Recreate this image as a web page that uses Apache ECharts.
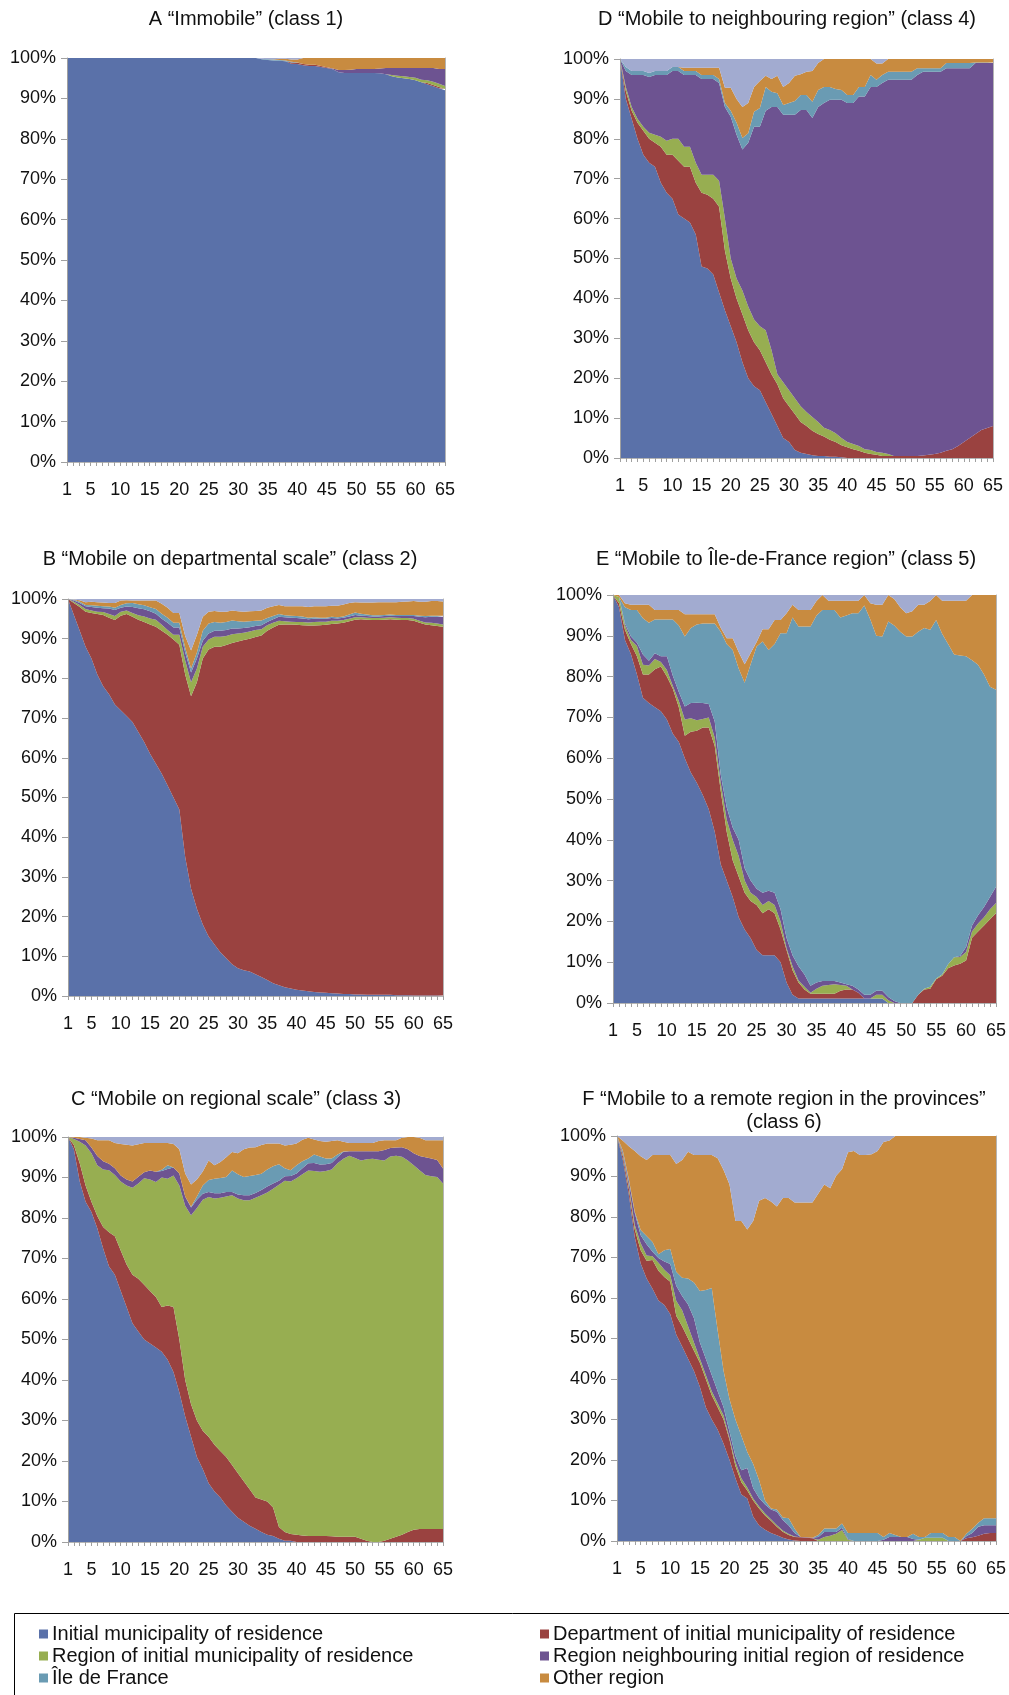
<!DOCTYPE html>
<html>
<head>
<meta charset="utf-8">
<script src="https://cdn.jsdelivr.net/npm/echarts@6/dist/echarts.min.js"></script>
<style>
  html, body { margin: 0; padding: 0; background: #ffffff; }
  #chart { width: 1009px; height: 1695px; }
</style>
</head>
<body>
<div id="chart"></div>
<script>
// Ages 1..65 (x categories)
const ages = [1,2,3,4,5,6,7,8,9,10,11,12,13,14,15,16,17,18,19,20,21,22,23,24,25,26,27,28,29,30,
  31,32,33,34,35,36,37,38,39,40,41,42,43,44,45,46,47,48,49,50,51,52,53,54,55,56,57,58,59,60,
  61,62,63,64,65];
const xTickLabels = [1,5,10,15,20,25,30,35,40,45,50,55,60,65];
const yTickValues = [0,10,20,30,40,50,60,70,80,90,100];

const seriesNames = [
  'Initial municipality of residence',
  'Department of initial municipality of residence',
  'Region of initial municipality of residence',
  'Region neighbouring initial region of residence',
  'Île de France',
  'Other region',
  'Unspecified'
];
const seriesColors = ['#5a71a9', '#9a4240', '#97ae51', '#6d5391', '#6a9bb3', '#c88b40', '#a2abd0'];

// ---- A "Immobile" (class 1), shares in %
const aInitial = [100,100,100,100,100,100,100,100,100,100,100,100,100,100,100,100,100,100,100,100,
  100,100,100,100,100,100,100,100,100,100,100,100,100,99.7,99.5,99.4,99.3,99.2,98.6,98.5,
  98.2,98,98,97.8,97.5,97.2,96.5,96.3,96.3,96.3,96.3,96.3,96.3,96.2,96,95.5,95.2,95,94.8,94.5,
  94,93.5,93,92.5,92];
const aDept = [0,0,0,0,0,0,0,0,0,0,0,0,0,0,0,0,0,0,0,0,0,0,0,0,0,0,0,0,0,0,0,0,0,0,0,0,0,0,
  0.3,0.3,0.3,0.3,0.3,0.2,0.2,0,0,0,0,0,0,0,0,0,0,0,0,0,0,0,0,0.3,0.3,0.3,0.3];
const aRegion = [0,0,0,0,0,0,0,0,0,0,0,0,0,0,0,0,0,0,0,0,0,0,0,0,0,0,0,0,0,0,0,0,0,0,0,0,0,0,0,0,
  0,0,0,0,0,0,0,0,0,0,0,0,0,0,0,0.3,0.4,0.5,0.5,0.6,0.6,0.7,0.8,0.8,0.8];
const aNeighbour = [0,0,0,0,0,0,0,0,0,0,0,0,0,0,0,0,0,0,0,0,0,0,0,0,0,0,0,0,0,0,0,0,0,0,0,0,0,0,0,0,
  0,0,0,0,0,0.2,0.5,0.7,0.8,1,1,1,1,1.2,1.5,1.7,1.9,2,2.2,2.4,2.9,3,3.4,3.7,4.2];
const aIdf = [0,0,0,0,0,0,0,0,0,0,0,0,0,0,0,0,0,0,0,0,0,0,0,0,0,0,0,0,0,0,0,0,0,0.1,0.2,0.2,0.2,0.2,0.2,0.1,
  0,0,0,0,0,0,0,0,0,0,0,0,0,0,0,0,0,0,0,0,0,0,0,0,0];
const aOther = [0,0,0,0,0,0,0,0,0,0,0,0,0,0,0,0,0,0,0,0,0,0,0,0,0,0,0,0,0,0,0,0,0,0,0,0.1,0.3,0.4,0.5,0.7,
  1.5,1.7,1.7,2,2.3,2.6,3,3,2.9,2.7,2.7,2.7,2.7,2.6,2.5,2.5,2.5,2.5,2.5,2.5,2.5,2.5,2.5,2.7,2.7];
const aUnknown = [0,0,0,0,0,0,0,0,0,0,0,0,0,0,0,0,0,0,0,0,0,0,0,0,0,0,0,0,0,0,0,0,0,0.2,0.3,0.3,0.2,0.2,0.4,0.4,
  0,0,0,0,0,0,0,0,0,0,0,0,0,0,0,0,0,0,0,0,0,0,0,0,0];

// ---- B "Mobile on departmental scale" (class 2)
const bInitial = [100,96,92,88,85,81,78,76,73.4,72,70.5,69,66.5,64,61,58.5,56,53,50,47,
  35,27,22,18,15,13,11,9.5,8,7,6.5,6.2,5.5,4.8,4,3.2,2.7,2.2,1.9,1.6,
  1.4,1.2,1,0.9,0.8,0.7,0.6,0.5,0.5,0.4,0.4,0.3,0.3,0.3,0.3,0.3,0.2,0.2,0.2,0.1,
  0.1,0.1,0.1,0.1,0.1];
const bDept = [0,3,6,8.8,11.5,15.2,18,19.3,21.3,23.8,25.7,26.5,28.3,30.2,32.6,34.5,36,38,39.8,41.5,
  46,48.5,57,67,72.3,75,77,78.9,80.9,82.3,83.2,83.8,84.9,86,88,89.6,90.8,91.4,91.7,91.9,
  92,92.1,92.3,92.5,92.7,93,93.2,93.5,93.9,94.4,94.5,94.5,94.4,94.4,94.5,94.6,94.6,94.5,94.5,94.4,
  93.9,93.5,93.3,93.1,92.9];
const bRegion = [0,0.3,0.5,0.7,0.6,0.6,0.7,0.9,1,1,0.9,1,1.1,1.4,1.5,1.8,1.5,1.2,1.2,2.5,
  3.5,3.5,3.5,3,2.5,2.5,2.5,2.3,2.2,2,1.8,1.8,1.8,1.6,1.4,1.2,1,0.8,0.7,0.7,
  0.8,0.8,0.9,0.9,0.8,0.8,0.7,0.7,0.6,0.6,0.5,0.5,0.5,0.5,0.5,0.5,0.5,0.5,0.5,0.5,
  0.5,0.5,0.6,0.6,0.6];
const bNeighbour = [0,0.3,0.5,0.7,0.9,1,1,1.4,1.5,1,1,1.5,1.8,1.8,1.8,1.5,1.5,1.8,1.8,1.8,
  2,2.5,2.5,1.5,1.5,1.5,1.5,1.5,1.5,1.3,1.2,1.1,1,1,0.8,0.9,1,1,1,1,
  0.9,0.8,0.8,0.7,0.7,0.7,0.6,0.6,0.6,0.6,0.4,0.4,0.4,0.4,0.4,0.4,0.4,0.5,0.5,0.7,
  1,1.3,1.5,1.7,1.9];
const bIdf = [0,0.2,0.3,0.3,0.4,0.5,0.5,0.5,0.6,0.7,0.8,1,1,1,1,1.2,1.3,1.3,1.2,1.2,
  1.2,1,1.5,2.5,2.5,2.2,2,2,2,1.8,1.6,1.5,1.3,1.2,1,0.8,0.7,0.5,0.5,0.5,
  0.5,0.4,0.4,0.3,0.3,0.3,0.3,0.3,0.5,0.6,0.5,0.4,0.3,0.3,0.3,0.3,0.3,0.3,0.3,0.3,
  0.3,0.3,0.3,0.3,0.3];
const bOther = [0,0.1,0.4,0.7,0.9,0.9,0.9,0.9,1.2,1.1,0.8,0.6,0.9,1.2,1.7,2.1,2.5,2.5,2.5,2.5,
  3,4.5,4.5,3.5,3,2.8,2.8,2.6,2.5,2.5,2.5,2.5,2.5,2.5,2.6,2.5,2.3,2.3,2.4,2.5,
  2.6,2.7,2.8,2.9,2.9,2.8,2.9,3,2.9,2.6,2.8,3,3.2,3.3,3.2,3.1,3.2,3.3,3.4,3.5,
  3.5,3.6,3.7,3.7,3.6];
const bUnknown = [0,0.1,0.3,0.8,0.7,0.8,0.9,1,1,0.4,0.3,0.4,0.4,0.4,0.4,0.4,1.2,2.2,3.5,3.5,
  9.3,13,9,4.5,3.2,3,3.2,3.2,2.9,3.1,3.2,3.1,3,2.9,2.2,1.8,1.5,1.8,1.8,1.8,
  1.8,2,1.8,1.8,1.8,1.7,1.7,1.4,1,0.8,0.9,0.9,0.9,0.8,0.8,0.8,0.8,0.7,0.6,0.5,
  0.7,0.7,0.5,0.5,0.6];

// ---- C "Mobile on regional scale" (class 3)
const cInitial = [100,97,89,84,81.5,77.5,72.5,68,66,62,58,54,52,50,49,48,47,45,42,37,
  31,26,21,18,14.5,12.5,11,9,7.5,6,5,4,3.3,2.5,1.8,1.5,0.8,0.3,0.3,0,
  0,0,0,0,0,0,0,0,0,0,0,0,0,0,0,0,0,0,0,0,0,0,0,0,0];
const cDept = [0,1,4.5,4,2.5,3,5.3,8.5,9.5,10,10.5,12,13,13.5,13,12.5,11,13.4,16,13,
  9,8,9,9.5,11.5,11.5,11.5,12,11.5,11,10,9,7.7,8,8.2,7,2.9,2.2,1.7,1.8,
  1.6,1.5,1.5,1.5,1.5,1.4,1.3,1.3,1.3,1.3,0.8,0.3,0,0,0.3,0.8,1.3,1.8,2.5,3,
  3.2,3.2,3.2,3.2,3.2];
const cRegion = [0,1.5,5.3,9.9,12,12.5,14.2,15.3,15.1,17,19.5,21.5,23.5,26.3,27.5,28.4,32,31.3,32.5,38,
  43,46.7,52.5,57,59.2,60.8,62.5,64.3,66.6,67.8,69.4,71.4,74,75.1,76.3,78.7,84.5,86.7,87,88,
  89.2,90.2,90.1,89.9,90.1,90.6,92.2,93.3,94.1,93.5,93.4,94.2,94.6,94.4,93.9,94.4,94.1,93.3,91.7,90,
  88.6,87.4,87.1,86.9,85.3];
const cNeighbour = [0,0.3,0.7,1.3,1.4,2.3,2,1.6,1.7,1.5,1.5,1.5,1.7,1.5,2.2,2.5,1.6,2.4,2,3,
  2.3,1.9,2,1.5,1.2,1.3,1.1,1.1,0.8,1,1.2,1.2,1.2,1.3,1.5,1.3,1,1.1,1.4,1.2,
  1.5,1.8,2,1.8,1.7,1.6,1.5,1.7,1.1,1.7,2.3,2,1.9,2.1,2.6,2.1,2,2.4,2.8,3,
  3.5,4.4,4.4,4.2,3.7];
const cIdf = [0,0,0,0,0,0,0,0,0,0,0,0,0,0,0,0,0.3,0.9,0,0,
  0,0.2,0.8,2,3,3.6,3.8,3.7,5.3,5,4.5,4.8,4.4,4,4.2,4.3,4.1,2,1.4,2,
  1.7,1.2,2.1,2,1.4,1.1,0.7,0.1,0,0,0,0,0,0,0,0,0,0,0,0,0,0,0,0,0];
const cOther = [0,0.2,0.5,0.6,2.2,3.9,5.2,5.8,6.2,7.8,8.6,8.9,8,7.2,6.8,7.1,6.6,5.5,5.8,6,
  5.7,5.5,4.2,3.5,4.8,3.3,3.9,4.9,4.6,5.2,6.9,7,6.9,7.1,6.4,5.6,5.1,5.6,6.3,5.4,
  5.3,5.1,3.7,3.8,4.1,4.3,3.5,2.4,2,2,2,2,2,2.5,2.4,1.9,1.8,2.3,3,4,
  4.5,4.2,4.5,4.9,7];
const cUnknown = [0,0,0,0.2,0.4,0.8,0.8,0.8,1.5,1.7,1.9,2.1,1.8,1.5,1.5,1.5,1.5,1.5,1.7,3,
  9,11.7,10.5,8.5,5.8,7,6.2,5,3.7,4,3,2.6,2.5,2,1.6,1.6,1.6,2.1,1.9,1.6,
  0.7,0.2,0.6,1,1.2,1,0.8,1.2,1.5,1.5,1.5,1.5,1.5,1,0.8,0.8,0.8,0.2,0,0,
  0.2,0.8,0.8,0.8,0.8];

// ---- D "Mobile to neighbouring region" (class 4)
const dInitial = [100,90,85,80,76,74,73,69,66.5,65,61,60,59,56,48,47.5,46,41.5,37,33,
  29,24,20,18,17,14,11,8,5,4,2,1.3,1,0.7,0.5,0.5,0.3,0.3,0.2,0,
  0,0,0,0,0,0,0,0,0,0,0,0,0,0,0,0,0,0,0,0,0,0,0,0,0];
const dDept = [0,2,2,4,6,6,6,9,9.5,11,13.5,13,14,13,18.5,18.5,19,21.5,15,12,
  11,12,12,11,10,10,10,10.5,10,9,9,7.7,7,6.1,5.5,4.9,4.3,3.7,3,2.7,
  2.2,1.8,1.3,1,0.8,0.5,0.5,0.5,0.5,0.5,0.5,0.5,0.6,0.8,1,1.3,1.8,2.2,3,4,
  5,6,7,7.5,8];
const dRegion = [0,1,1,1,1,1.5,2,2.5,3.5,4,5.5,5,5,5,4.5,5,6,6.5,8,5,
  5,6,6,5.7,6,8,6,2.5,4,4,4,4,3.5,3.5,3,2.2,2.4,2.2,1.8,1.3,
  1.3,1.2,0.9,1,0.7,0.8,0.5,0,0,0,0,0,0,0,0,0,0,0,0,0,0,0,0,0,0];
const dNeighbour = [0,4,8,11,13,14,15,15.5,16.5,17,17,18,18,22,24,24,24,24.5,28,35.5,
  36,35.3,41,48.3,50,55,61,67,67,69,71,74.2,75.7,74.9,79,81.4,82.8,83.6,84.8,85,
  85.5,87.6,88.4,91,91.5,92.7,93.8,94.3,94.3,94.3,94.3,95.5,96.2,96,95.8,95.5,95.9,95.5,94.7,93.7,
  92.7,93,92,91.5,91];
const dIdf = [0,1,1,1,1,1,1,1,1,1,1,1,1,1,1,1,1,1,1,1.5,
  3,2.9,2.4,3.8,4.7,6,3.8,3.4,2.5,3,3.5,3.8,3.8,4.1,4.2,4,3.2,2.7,2.4,2,
  2,2.4,2.4,3,1.8,2,2,2,2,2,2,1.7,0.9,0.9,0.9,0.9,1.3,1.3,1.3,1.3,
  1.3,0.1,0.1,0.1,0.1];
const dOther = [0,0,0,0,0,0,0,0,0,0,0,0.8,0.8,0.8,1.8,1.8,1.8,2.8,3.8,5.8,
  6,7.8,7.6,6.2,6.8,2.8,3.2,4.4,4.5,5,6.3,5.2,5.8,7.7,6.8,7,7,7.5,7.8,9,
  9,7,7,4,4.1,2.9,3.2,3.2,3.2,3.2,3.2,2.3,2.3,2.3,2.3,2.3,1,1,1,1,
  1,0.9,0.9,0.9,0.9];
const dUnknown = [0,2,3,3,3,3.5,3,3,3,2,2,2.2,2.2,2.2,2.2,2.2,2.2,2.2,7.2,7.2,
  10,12,11,7,5.5,4.2,5,4.2,7,6,4.2,3.8,3.2,3,1,0,0,0,0,0,
  0,0,0,0,1.1,1.1,0,0,0,0,0,0,0,0,0,0,0,0,0,0,0,0,0,0,0];

// ---- E "Mobile to Île-de-France region" (class 5)
const eInitial = [100,97,89,85.5,80.5,74.8,73.5,72.5,71.5,69.5,66,64,60,56.5,54,51,47.5,42,34,30,
  26,21,18,15.9,13,11.7,11.7,11.7,10,5,2,1.1,1.1,1.1,1.1,1.1,1.1,1.1,1.1,1.1,
  1.1,1.1,1.1,1.1,1.1,1.1,0,0,0,0,0,0,0,0,0,0,0,0,0,0,0,0,0,0,0];
const eDept = [0,1,2.5,2.5,4.5,5.7,7,9.3,11,10.5,11,8.5,5.5,10,12.7,16.5,20,21,18,12,
  9,10,9,9.1,11,10.3,11.3,10.3,8,8,6,3.9,2.2,1.15,1.15,1.15,1.15,1.15,1.9,2.2,
  2.2,1.4,0,0,0,0,0,0,0,0,0,2,3.3,3.5,5.8,6.7,8.5,9.2,9.6,10.4,
  16,17.5,19,20.5,22];
const eRegion = [0,1.5,1,1,2.5,2.4,2.2,2.5,1.1,1.6,0.7,1.5,4,3.3,2.6,2.1,2.5,2,2,3,
  5,5,3,2,2,2,2,2,2,0.5,1,0.5,0.7,0.25,1.25,1.95,2.15,2.35,1.4,0.9,
  0,0,0,0,0.9,0.9,0.7,0,0,0,0,0,0.2,0.5,0.2,0.3,1,2,1.7,2.1,
  1.5,2,2,2.5,2.5];
const eNeighbour = [0,0,0.5,0.8,0.8,2.5,1.2,1.4,1.4,3.4,2.5,2.2,3.2,3.7,4.3,3.9,3.3,4,2,3,
  3,4,3,3,2,3,2.5,3,3,2.5,2.7,3.5,3,1.7,1.5,1.2,1,0.8,0.6,0.4,
  0.9,0.8,0.9,0.9,1,1,0.8,0.5,0,0,0,0,0,0,0,0,0,0,0.2,1.2,
  1.5,2,2.5,3,4];
const eIdf = [0,0,4,6.5,8,8.9,9.3,8.3,9,9,13.8,16.3,17.1,18.4,19.2,19.5,19.7,24,35,40,
  43.5,42,45.5,53,59.4,61.6,59,61,67.6,74.6,82.8,83.3,85.3,88.1,90,90.9,90.9,90.9,89.5,90.4,
  91.3,92.2,95.4,92,87,86.8,92,92,91,89.8,89.8,89,88.4,87.5,87.9,83.5,78.5,74.2,73.7,71.3,
  65,61.4,57,51.5,48.3];
const eOther = [0,0.5,1,1.3,1.3,3.3,4.4,2.3,2.3,2.3,2.3,3.8,5.5,3.4,2.5,2.3,2.3,2.3,1,1.4,
  2.9,4,4.5,2.8,1.1,3,5.1,5.9,3.3,4.9,3.1,4,4,4,3.5,3.7,2.3,2.3,4.1,3.6,
  3.1,3.1,2.6,4,7.6,7.8,6.5,6.5,6,5.7,6.2,6.6,5.7,7,6.1,8.1,10.6,13.2,13.4,13.6,
  16,17.1,19.5,22.5,23.2];
const eUnknown = [0,0,2,2.4,2.4,2.4,2.4,3.7,3.7,3.7,3.7,3.7,4.7,4.7,4.7,4.7,4.7,4.7,8,10.6,
  10.6,14,17,14.2,11.5,8.4,8.4,6.1,6.1,4.5,2.4,3.7,3.7,3.7,1.5,0,1.4,1.4,1.4,1.4,
  1.4,1.4,0,2,2.4,2.4,0,1,3,4.5,4,2.4,2.4,1.5,0,1.4,1.4,1.4,1.4,1.4,
  0,0,0,0,0];

// ---- F "Mobile to a remote region in the provinces" (class 6)
const fInitial = [100,94,85.5,75,68.5,64.8,62.3,59.4,58.3,56,51,48,45,42,38,33,30,27.5,24,20,
  15.5,11.5,10.5,6,3.8,2.8,2,1.4,0.8,0.4,0.1,0,0,0,0,0,0,0,0,0,
  0,0,0,0,0,0,0,0,0,0,0,0,0,0,0,0,0,0,0,0,0,0,0,0,0];
const fDept = [0,1,1.5,2,3.3,4.4,7.1,7.3,6.9,8,4.6,5,5,5,6,7,6,5.5,6,5,
  3,3,2,4,4.2,3.5,3,2.1,1.5,1.1,0.9,0.9,0.8,0.7,0,0,0,0,0,0,
  0,0,0,0,0,0,0,0,0,0,0,0,0,0,0,0,0,0,0,0.7,0.9,1.3,1.8,2,2];
const fRegion = [0,0.5,0.7,1,1.7,1.3,0.9,2,1.8,1.6,3.7,4,3,2,1,1,1,1,1,0.5,
  1,1,0.7,0.5,0.5,0.5,0.4,0.4,0.3,0.2,0.1,0,0,0,0.3,1,1.3,1.8,2.7,0.3,
  0,0,0,0,0,0,0,0,0,0,0,0.3,0.8,0.8,0.8,0.8,0,0,0,0,0,0,0,0,0];
const fNeighbour = [0,0.5,1.1,3,2,2.8,1.1,1.2,2,2.8,3.7,3.5,5.4,6,4,4,4,3,2,1.5,
  1.5,2,4.8,2.5,2.1,2.2,2.4,3.35,2.6,2.1,0.9,0.1,0.1,0.1,0.7,1.25,0.95,0.45,0.6,0.2,
  0,0,0,0,0,0.3,1,1,1,1,0.5,0,0,0,0,0,0,0,0,0.5,
  1.1,2.2,2.1,1.9,1.9];
const fIdf = [0,0.3,0.5,0.3,1.3,2,2.4,0.9,2.8,3.7,3.5,4.5,6.4,8.8,12.7,17,21.5,15,9,8,
  9,8.5,4,6,4.4,1,0.2,0.55,0.6,1.8,1,0,0,0,0.5,0.85,0.85,0.85,1,1.5,
  2,2,2,2,2,0.7,1,0.5,0,0,1.3,0.7,0.2,1.2,1.2,1.2,1,1,0,0.6,
  1,1,1.7,1.7,1.7];
const fOther = [0,2.5,8.2,15,18.2,18.8,21.5,24.5,23.5,23.2,26.6,29.1,31.3,31.5,33.6,33.3,32.8,42.5,49.6,53,
  49,53,54.9,60,69,74.7,75.8,74.8,78.9,79.1,80.6,82.6,82.7,82.8,84.3,84.9,84,87.1,87.5,94,
  94.3,93.3,93.3,93.5,94.3,97.5,96.9,98.5,99,99,98.2,99,99,98,98,98,99,99,100,98.2,
  97,95.5,94.4,94.4,94.4];
const fUnknown = [0,1.2,2.5,3.7,5,5.9,4.7,4.7,4.7,4.7,6.9,5.9,3.9,4.7,4.7,4.7,4.7,5.5,8.4,12,
  21,21,23.1,21,16,15.3,16.2,17.4,15.3,15.3,16.4,16.4,16.4,16.4,14.2,12,12.9,9.8,8.2,4,
  3.7,4.7,4.7,4.5,3.7,1.5,1.1,0,0,0,0,0,0,0,0,0,0,0,0,0,0,0,0,0,0];

// Panel layout: plot rectangles (px) and headings
const panels = [
  { heading: ['A \u201cImmobile\u201d (class 1)'], hx: 246, hy: 19,
    rect: { left: 67, top: 58, width: 378, height: 404 },
    values: [aInitial, aDept, aRegion, aNeighbour, aIdf, aOther, aUnknown] },
  { heading: ['D \u201cMobile to neighbouring region\u201d (class 4)'], hx: 787, hy: 19,
    rect: { left: 620, top: 59, width: 373, height: 399 },
    values: [dInitial, dDept, dRegion, dNeighbour, dIdf, dOther, dUnknown] },
  { heading: ['B \u201cMobile on departmental scale\u201d (class 2)'], hx: 230, hy: 559,
    rect: { left: 68, top: 599, width: 375, height: 397 },
    values: [bInitial, bDept, bRegion, bNeighbour, bIdf, bOther, bUnknown] },
  { heading: ['E \u201cMobile to \u00cele-de-France region\u201d (class 5)'], hx: 786, hy: 559,
    rect: { left: 613, top: 595, width: 383, height: 408 },
    values: [eInitial, eDept, eRegion, eNeighbour, eIdf, eOther, eUnknown] },
  { heading: ['C \u201cMobile on regional scale\u201d (class 3)'], hx: 236, hy: 1099,
    rect: { left: 68, top: 1137, width: 375, height: 405 },
    values: [cInitial, cDept, cRegion, cNeighbour, cIdf, cOther, cUnknown] },
  { heading: ['F \u201cMobile to a remote region in the provinces\u201d', '(class 6)'], hx: 784, hy: 1099,
    rect: { left: 617, top: 1136, width: 379, height: 405 },
    values: [fInitial, fDept, fRegion, fNeighbour, fIdf, fOther, fUnknown] }
];

const FONT = '"Liberation Sans", Arial, Helvetica, sans-serif';
const AXIS_GREY = '#a0a0a0';
const TEXT = '#111111';

const grid = [], xAxis = [], yAxis = [], series = [], graphic = [];

panels.forEach((p, i) => {
  grid.push(Object.assign({ containLabel: false }, p.rect));

  xAxis.push({
    type: 'category', gridIndex: i, data: ages, boundaryGap: false, z: 5,
    axisLine: { show: true, lineStyle: { color: AXIS_GREY, width: 1 } },
    axisTick: { show: true, interval: 0, length: 4, lineStyle: { color: AXIS_GREY } },
    axisLabel: {
      interval: (idx, val) => xTickLabels.indexOf(Number(val)) !== -1,
      margin: 19, fontSize: 18, fontFamily: FONT, color: TEXT
    },
    splitLine: { show: false }
  });
  yAxis.push({
    type: 'value', gridIndex: i, min: yTickValues[0], max: yTickValues[yTickValues.length - 1],
    interval: 10, z: 5,
    axisLine: { show: true, lineStyle: { color: AXIS_GREY, width: 1 } },
    axisTick: { show: true, length: 6, lineStyle: { color: AXIS_GREY } },
    axisLabel: { formatter: '{value}%', margin: 11, fontSize: 18, fontFamily: FONT, color: TEXT },
    splitLine: { show: false }
  });

  p.values.forEach((vals, k) => {
    series.push({
      type: 'line', name: seriesNames[k], xAxisIndex: i, yAxisIndex: i,
      stack: 'panel' + i, data: vals, symbol: 'none', showSymbol: false,
      silent: true, animation: false, smooth: false,
      color: seriesColors[k],
      lineStyle: { width: 0 },
      areaStyle: { color: seriesColors[k], opacity: 1 },
      emphasis: { disabled: true }
    });
  });

  p.heading.forEach((line, j) => {
    graphic.push({
      type: 'text', x: p.hx, y: p.hy + j * 23,
      style: { text: line, fill: TEXT, font: '20px ' + FONT,
               align: 'center', verticalAlign: 'middle',
               textAlign: 'center', textVerticalAlign: 'middle' }
    });
  });
});

// Frame: top and right edges of each plot area
panels.forEach((p, i) => {
  xAxis.push({
    type: 'value', gridIndex: i, position: 'top', min: 0, max: 1, z: 5,
    axisLine: { show: true, lineStyle: { color: '#b4b4b4', width: 1 } },
    axisTick: { show: false }, axisLabel: { show: false }, splitLine: { show: false }
  });
  yAxis.push({
    type: 'value', gridIndex: i, position: 'right', min: 0, max: 1, z: 5,
    axisLine: { show: true, lineStyle: { color: '#b4b4b4', width: 1 } },
    axisTick: { show: false }, axisLabel: { show: false }, splitLine: { show: false }
  });
});

// Legend box outline
graphic.push({
  type: 'rect', shape: { x: 14.5, y: 1613.5, width: 1100, height: 200 },
  style: { fill: 'none', stroke: '#000000', lineWidth: 1 }, silent: true
});

const legendCommon = {
  orient: 'vertical', icon: 'rect', itemWidth: 9, itemHeight: 9, itemGap: 0, padding: 0,
  selectedMode: false,
  textStyle: { fontSize: 20, lineHeight: 22, fontFamily: FONT, color: TEXT, padding: [0, 0, 0, -1] }
};

const option = {
  backgroundColor: '#ffffff',
  animation: false,
  grid, xAxis, yAxis, series, graphic,
  legend: [
    Object.assign({ left: 39, top: 1623,
      data: [seriesNames[0], seriesNames[2], seriesNames[4]] }, legendCommon),
    Object.assign({ left: 540, top: 1623,
      data: [seriesNames[1], seriesNames[3], seriesNames[5]] }, legendCommon)
  ]
};

const chart = echarts.init(document.getElementById('chart'), null, { renderer: 'canvas' });
chart.setOption(option);
</script>
</body>
</html>
